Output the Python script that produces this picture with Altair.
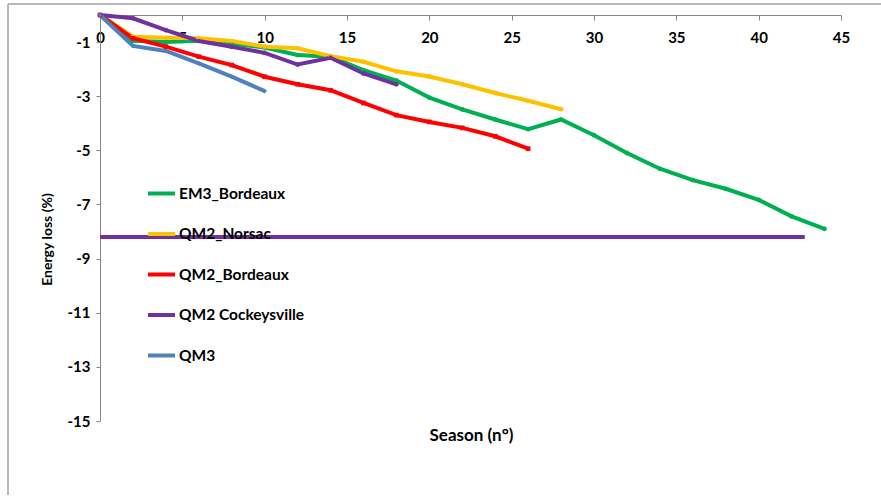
import altair as alt
import pandas as pd

# Season numbers and energy loss (%) per installation
em3_bordeaux_season = [0, 2, 4, 6, 8, 10, 12, 14, 16, 18, 20, 22, 24, 26, 28, 30, 32, 34, 36, 38, 40, 42, 44]
em3_bordeaux_loss = [0, -0.95, -1.0, -0.95, -1.05, -1.2, -1.48, -1.54, -2.04, -2.42, -3.05, -3.49, -3.86,
                     -4.22, -3.86, -4.44, -5.1, -5.68, -6.1, -6.42, -6.83, -7.44, -7.9]

qm2_norsac_season = [0, 2, 4, 6, 8, 10, 12, 14, 16, 18, 20, 22, 24, 26, 28]
qm2_norsac_loss = [0, -0.8, -0.84, -0.86, -0.96, -1.17, -1.23, -1.52, -1.73, -2.08, -2.27, -2.56, -2.88, -3.17, -3.48]

qm2_bordeaux_season = [0, 2, 4, 6, 8, 10, 12, 14, 16, 18, 20, 22, 24, 26]
qm2_bordeaux_loss = [0, -0.86, -1.17, -1.54, -1.85, -2.28, -2.56, -2.78, -3.25, -3.7, -3.95, -4.17, -4.48, -4.94]

qm2_cockeysville_season = [0, 2, 4, 6, 8, 10, 12, 14, 16, 18]
qm2_cockeysville_loss = [0, -0.12, -0.56, -0.96, -1.17, -1.4, -1.83, -1.58, -2.16, -2.56]

qm3_season = [0, 2, 4, 6, 8, 10]
qm3_loss = [0, -1.14, -1.33, -1.79, -2.28, -2.81]

# Flat Cockeysville level line
cockeysville_level_season = [0, 42.8]
cockeysville_level_loss = [-8.2, -8.2]

series_names = ["EM3_Bordeaux", "QM2_Norsac", "QM2_Bordeaux", "QM2 Cockeysville", "QM3"]
series_colors = ["#00B050", "#FFC000", "#FF0000", "#7030A0", "#4F81BD"]
series_shapes = ["circle", "circle", "square", "circle", "diamond"]
series_data = [
    (em3_bordeaux_season, em3_bordeaux_loss),
    (qm2_norsac_season, qm2_norsac_loss),
    (qm2_bordeaux_season, qm2_bordeaux_loss),
    (qm2_cockeysville_season, qm2_cockeysville_loss),
    (qm3_season, qm3_loss),
]

x_ticks = [0, 5, 10, 15, 20, 25, 30, 35, 40, 45]
y_ticks = [-1, -3, -5, -7, -9, -11, -13, -15]

rows = []
for order, (name, (xs, ys)) in enumerate(zip(series_names, series_data)):
    for xv, yv in zip(xs, ys):
        rows.append({"series": name, "order": order, "season": xv, "loss": yv})
df = pd.DataFrame(rows)

level_df = pd.DataFrame({"season": cockeysville_level_season, "loss": cockeysville_level_loss})

W, H = 741, 406
FONT = "Lato"

x_scale = alt.Scale(domain=[0, 45], nice=False, zero=False)
y_scale = alt.Scale(domain=[-15, 0], nice=False, zero=False)
color_scale = alt.Scale(domain=series_names, range=series_colors)

x_axis = alt.Axis(
    orient="bottom", offset=-H, values=x_ticks, grid=False,
    domainColor="#868686", tickColor="#868686", tickSize=5, domainWidth=1,
    labelFont=FONT, labelFontWeight="bold", labelFontSize=15, labelColor="black",
    labelPadding=10, labelFlush=False,
    title="Season (n°)", titleFont=FONT, titleFontWeight="bold", titleFontSize=17,
    titleColor="black", titleX=371, titleY=420, titleAnchor="middle",
    titleAlign="center", titleBaseline="middle",
)
y_axis = alt.Axis(
    values=y_ticks, grid=False, labelExpr="'' + datum.value",
    domainColor="#868686", tickColor="#868686", tickSize=4,
    labelFont=FONT, labelFontWeight="bold", labelFontSize=15, labelColor="black",
    labelPadding=6,
    title="Energy loss (%)", titleFont=FONT, titleFontWeight="bold", titleFontSize=14,
    titleColor="black", titleX=-53, titleY=224, titleAngle=-90,
    titleAlign="center", titleBaseline="middle",
)

legend = alt.Legend(
    orient="none", legendX=46, legendY=163, title=None,
    symbolType="stroke", symbolSize=729, symbolStrokeWidth=4,
    labelFont=FONT, labelFontWeight="bold", labelFontSize=15.5, labelColor="black",
    labelOffset=2, rowPadding=16.5, padding=0,
)

lines = alt.Chart(df).mark_line(strokeWidth=4).encode(
    x=alt.X("season:Q", scale=x_scale, axis=x_axis),
    y=alt.Y("loss:Q", scale=y_scale, axis=y_axis),
    color=alt.Color("series:N", scale=color_scale, legend=legend, sort=series_names),
    order=alt.Order("season:Q"),
    detail="order:O",
)

# Small markers on each series, one layer per series so the legend stays a plain line
point_layers = []
for name, colour, shape in zip(series_names, series_colors, series_shapes):
    point_layers.append(
        alt.Chart(df[df["series"] == name]).mark_point(
            filled=True, size=22, opacity=1, shape=shape, color=colour
        ).encode(
            x=alt.X("season:Q", scale=x_scale),
            y=alt.Y("loss:Q", scale=y_scale),
        )
    )

level = alt.Chart(level_df).mark_line(strokeWidth=4, color="#7030A0").encode(
    x=alt.X("season:Q", scale=x_scale),
    y=alt.Y("loss:Q", scale=y_scale),
)

# Frame lines along the top and left edges of the figure
border_top = alt.Chart(level_df).mark_rule(color="#b3b3b3", strokeWidth=1.5).encode(
    x=alt.value(-92), x2=alt.value(790), y=alt.value(-11)
)
border_left = alt.Chart(level_df).mark_rule(color="#b3b3b3", strokeWidth=1.5).encode(
    x=alt.value(-92), y=alt.value(-11), y2=alt.value(480)
)

chart = alt.layer(border_top, border_left, lines, *point_layers, level).properties(
    width=W, height=H,
    autosize=alt.AutoSizeParams(type="none"),
    padding={"left": 100, "top": 15, "right": 40, "bottom": 76},
    background="white",
).configure_view(stroke=None)

chart.save("out.html", embed_options={"renderer": "svg", "actions": False})
